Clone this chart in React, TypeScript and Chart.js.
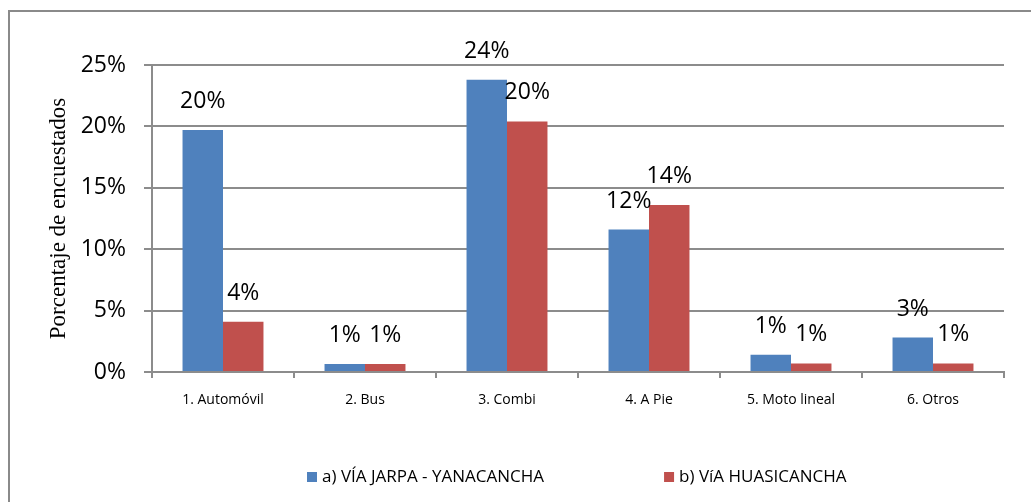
import React, { useEffect, useRef } from "react";
import { Chart, registerables } from "chart.js";

Chart.register(...registerables);

const categories = ["1. Automóvil", "2. Bus", "3. Combi", "4. A Pie", "5. Moto lineal", "6. Otros"];
const seriesNames = ["a) VÍA JARPA - YANACANCHA", "b) VíA HUASICANCHA"];
const jarpaValues = [19.7, 0.65, 23.8, 11.6, 1.4, 2.8];
const huasiValues = [4.1, 0.65, 20.4, 13.6, 0.7, 0.7];
const yTicks = [0, 5, 10, 15, 20, 25];
const yTitle = "Porcentaje de encuestados";

const BLUE = "#4F81BD";
const RED = "#C0504D";
const GRID = "#8c8c8c";

const frameAndLabels = {
  id: "frameAndLabels",
  beforeDraw(chart: any) {
    const ctx = chart.ctx;
    ctx.save();
    ctx.fillStyle = "#ffffff";
    ctx.fillRect(0, 0, chart.width, chart.height);
    ctx.strokeStyle = "#8a8a8a";
    ctx.lineWidth = 2;
    ctx.strokeRect(9, 11, chart.width + 20, chart.height + 20);
    ctx.restore();
  },
  afterDatasetsDraw(chart: any) {
    const ctx = chart.ctx;
    ctx.save();
    ctx.font = "23px 'Open Sans', sans-serif";
    ctx.fillStyle = "#000";
    ctx.textAlign = "center";
    ctx.textBaseline = "alphabetic";
    chart.data.datasets.forEach((ds: any, di: number) => {
      const meta = chart.getDatasetMeta(di);
      meta.data.forEach((bar: any, i: number) => {
        const v = ds.data[i];
        ctx.fillText(Math.round(v) + "%", bar.x, bar.y - 22);
      });
    });
    ctx.restore();
  },
  afterDraw(chart: any) {
    const ctx = chart.ctx;
    ctx.save();
    ctx.font = "17px 'Open Sans', sans-serif";
    ctx.textBaseline = "middle";
    ctx.textAlign = "left";
    let x = 307;
    const y = 477;
    chart.data.datasets.forEach((ds: any) => {
      ctx.fillStyle = ds.backgroundColor;
      ctx.fillRect(x, y - 5, 10, 10);
      ctx.fillStyle = "#000";
      ctx.fillText(ds.label, x + 15, y);
      x += 15 + ctx.measureText(ds.label).width + 120;
    });
    ctx.restore();
  },
};

export default function App() {
  const ref = useRef<HTMLCanvasElement | null>(null);

  useEffect(() => {
    if (!ref.current) return;
    const chart = new Chart(ref.current, {
      type: "bar",
      data: {
        labels: categories,
        datasets: [
          { label: seriesNames[0], data: jarpaValues, backgroundColor: BLUE, categoryPercentage: 0.57, barPercentage: 1 },
          { label: seriesNames[1], data: huasiValues, backgroundColor: RED, categoryPercentage: 0.57, barPercentage: 1 },
        ],
      },
      options: {
        responsive: false,
        animation: false,
        layout: { padding: { top: 65, right: 27, left: 0, bottom: 0 } },
        plugins: {
          legend: { display: false },
          tooltip: { enabled: false },
        },
        scales: {
          x: {
            afterFit: (s: any) => { s.height = 130; },
            grid: { display: true, drawOnChartArea: false, drawTicks: true, tickLength: 6, color: GRID, lineWidth: 2, offset: true },
            border: { display: true, color: GRID, width: 2 },
            ticks: { color: "#000", font: { family: "'Open Sans', sans-serif", size: 14 }, padding: 14, maxRotation: 0 },
          },
          y: {
            min: 0,
            max: 25,
            afterFit: (s: any) => { s.width = 152; },
            afterBuildTicks: (s: any) => { s.ticks = yTicks.map((v) => ({ value: v })); },
            grid: { color: GRID, lineWidth: 2, tickLength: 8, drawTicks: true },
            border: { display: true, color: GRID, width: 2 },
            ticks: {
              color: "#000",
              font: { family: "'Open Sans', sans-serif", size: 23 },
              padding: 18,
              callback: (v: any) => v + "%",
            },
            title: {
              display: true,
              text: yTitle,
              color: "#000",
              font: { family: "'Liberation Serif', 'Times New Roman', serif", size: 23 },
              padding: { top: 45, bottom: 0 },
            },
          },
        },
      },
      plugins: [frameAndLabels],
    });
    return () => chart.destroy();
  }, []);

  return (
    <div style={{ position: "absolute", left: 0, top: 0, width: 1031, height: 502 }}>
      <canvas ref={ref} width={1031} height={502} style={{ width: 1031, height: 502 }} />
    </div>
  );
}
